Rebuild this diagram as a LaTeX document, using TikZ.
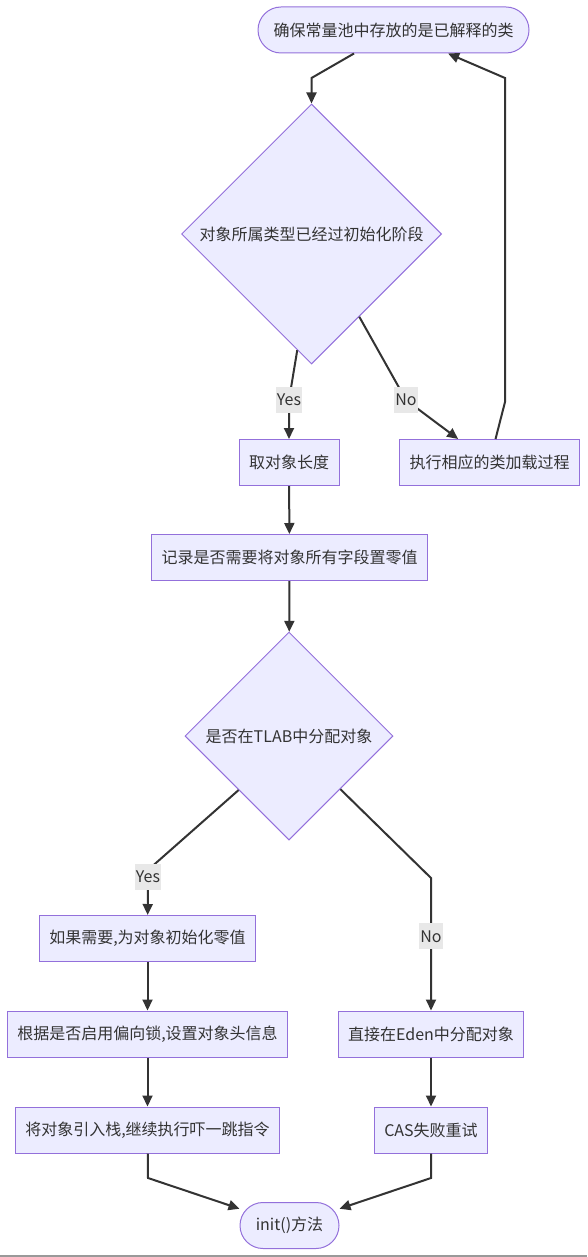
\documentclass[tikz,border=0pt]{standalone}
\usepackage{fontspec}
\setmainfont{Noto Sans CJK SC}
\usetikzlibrary{arrows.meta,shapes.geometric}
\definecolor{nodefill}{HTML}{ECECFF}
\definecolor{nodeline}{HTML}{9370DB}
\definecolor{edgeline}{HTML}{333333}
\definecolor{labelbg}{HTML}{E8E8E8}

\begin{document}
\begin{tikzpicture}[x=1pt, y=-1pt,
	every node/.style={font=\fontsize{16}{19}\selectfont, text=edgeline},
	>={Triangle[length=11pt, width=10pt]},
	box/.style={draw=nodeline, fill=nodefill, line width=1pt, minimum height=46pt, inner xsep=10pt},
	term/.style={box, rounded corners=23pt, inner xsep=0pt},
	test/.style={diamond, aspect=1, draw=nodeline, fill=nodefill, line width=1pt, inner sep=0pt},
	flow/.style={->, draw=edgeline, line width=2pt},
	elabel/.style={fill=labelbg, inner xsep=1pt, inner ysep=0pt, minimum height=26pt}]
	\useasboundingbox (0,0) rectangle (587,1257);
	\node[term, minimum width=271pt] (ensure) at (393.5,30) {确保常量池中存放的是已解释的类};
	\node[test, minimum size=260pt] (checkInit) at (311.5,234) {对象所属类型已经过初始化阶段};
	\node[box, minimum width=100pt] (getLen) at (289,462.5) {取对象长度};
	\node[box] (loadCls) at (489.5,462.5) {执行相应的类加载过程};
	\node[box] (record) at (289.5,557.5) {记录是否需要将对象所有字段置零值};
	\node[test, minimum size=208pt] (tlab) at (289,736) {是否在TLAB中分配对象};
	\node[box] (initZero) at (147.5,938.5) {如果需要,为对象初始化零值};
	\node[box] (header) at (147.5,1034) {根据是否启用偏向锁,设置对象头信息};
	\node[box] (push) at (147.5,1130) {将对象引入栈,继续执行吓一跳指令};
	\node[box] (eden) at (431,1034) {直接在Eden中分配对象};
	\node[box] (cas) at (431,1130) {CAS失败重试};
	\node[term, minimum width=99pt] (initM) at (289.5,1225.5) {init()方法};
	\draw[flow] ([xshift=-39.5pt]ensure.south) -- (311.5,78) -- (checkInit.north);
	\draw[flow] (checkInit.-97.6) -- (289,400) node[elabel] (yes1) {Yes} -- (getLen);
	\draw[flow] (checkInit.-60.2) -- (406,400) node[elabel] (no1) {No} -- (loadCls);
	\draw[flow] (loadCls) -- (505,402) -- (505,78) -- (ensure);
	\draw[flow] (getLen) -- (record);
	\draw[flow] (record) -- (tlab);
	\draw[flow] (tlab.-133.9) -- (148,870) -- node[elabel, pos=0.15] (yes2) {Yes} (initZero);
	\draw[flow] (tlab.-46.1) -- (431,878) -- node[elabel, pos=0.44] (no2) {No} (eden);
	\draw[flow] (initZero) -- (header);
	\draw[flow] (header) -- (push);
	\draw[flow] (eden) -- (cas);
	\draw[flow] (push) -- (148,1178) -- (initM);
	\draw[flow] (cas) -- (431,1178) -- (initM);
	\draw[gray!80, line width=1.5pt] (0,1256) -- (587,1256);
\end{tikzpicture}
\end{document}
